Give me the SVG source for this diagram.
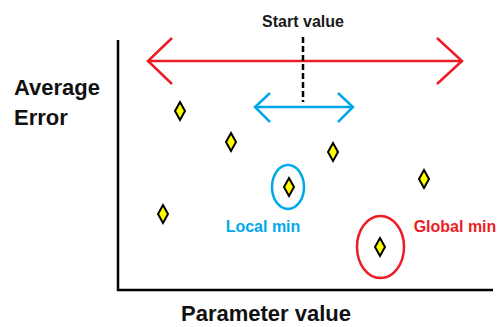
<svg xmlns="http://www.w3.org/2000/svg" width="499" height="327" viewBox="0 0 499 327">
  <style>
    .lbl { font-family: "Liberation Sans", Arial, sans-serif; font-weight: bold; }
    .axis { stroke: #000; stroke-width: 2.5; fill: none; }
    .red { stroke: #ED1C24; stroke-width: 2.5; fill: none; }
    .blue { stroke: #00A8EC; stroke-width: 2.5; fill: none; }
    .pt { fill: #FFFF00; stroke: #000; stroke-width: 2; stroke-linejoin: miter; }
  </style>
  <defs>
    <polygon id="diamond" points="0,-9 5,0 0,9 -5,0"/>
  </defs>
  <rect width="499" height="327" fill="#fff"/>

  <!-- axes -->
  <g id="axes">
    <path class="axis" d="M118,40 V290 H493"/>
  </g>

  <!-- connectors: search ranges and start marker -->
  <g id="connectors">
    <path class="red" d="M148,61 H462 M172,38 L148,61 L172,84 M437,38 L462,61 L437,84"/>
    <path class="blue" d="M255,107 H353 M270,93 L255,107 L270,122 M338,93 L353,107 L338,122"/>
    <line x1="303" y1="37" x2="303" y2="102" stroke="#000" stroke-width="2.5" stroke-dasharray="6,3"/>
  </g>

  <g id="start-value">
    <text class="lbl" x="303" y="27" font-size="16" text-anchor="middle" fill="#1a1a1a">Start value</text>
  </g>

  <!-- data points -->
  <g id="points">
    <use href="#diamond" class="pt" x="180" y="111"/>
    <use href="#diamond" class="pt" x="231" y="142"/>
    <use href="#diamond" class="pt" x="333" y="152"/>
    <use href="#diamond" class="pt" x="289" y="187"/>
    <use href="#diamond" class="pt" x="163" y="214"/>
    <use href="#diamond" class="pt" x="424" y="179"/>
    <use href="#diamond" class="pt" x="380" y="247"/>
  </g>

  <g id="local-min">
    <ellipse class="blue" cx="288" cy="187" rx="16" ry="22"/>
    <text class="lbl" x="263" y="232" font-size="16" text-anchor="middle" fill="#00A8EC">Local min</text>
  </g>

  <g id="global-min">
    <ellipse class="red" cx="380.5" cy="247" rx="23.5" ry="31"/>
    <text class="lbl" x="455" y="232" font-size="16" text-anchor="middle" fill="#ED1C24">Global min</text>
  </g>

  <g id="y-label">
    <text class="lbl" x="14" y="95" font-size="22" fill="#111">Average</text>
    <text class="lbl" x="14" y="125" font-size="22" fill="#111">Error</text>
  </g>

  <g id="x-label">
    <text class="lbl" x="266" y="321" font-size="22" text-anchor="middle" fill="#111">Parameter value</text>
  </g>
</svg>
